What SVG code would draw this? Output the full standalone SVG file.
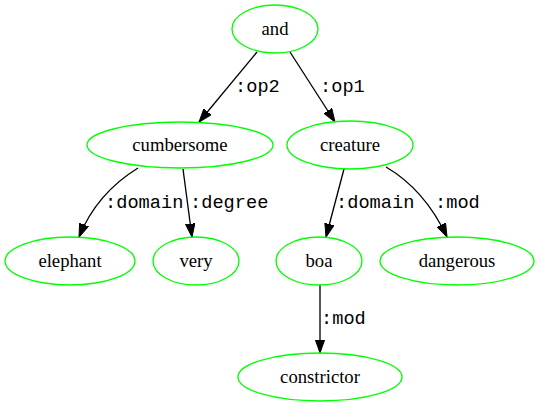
<svg xmlns="http://www.w3.org/2000/svg" width="540" height="407" viewBox="0 0 540 407">
<style>
.node ellipse{fill:none;stroke:#00ff00;stroke-width:1.33}
.node text{font-family:"Liberation Serif","Times New Roman",serif;font-size:18.67px;text-anchor:middle;fill:#000}
.edges path{fill:none;stroke:#000;stroke-width:1.33}
.edges text{font-family:"Liberation Mono","Courier New",monospace;font-size:18.67px;fill:#000}
</style>
<defs>
<marker id="ah" markerUnits="userSpaceOnUse" markerWidth="14" markerHeight="10" viewBox="0 0 14 10" refX="13.3" refY="5" orient="auto">
<path d="M0,0.3 L13.3,5 L0,9.7 z" fill="#000" stroke="#000" stroke-width="1"/>
</marker>
</defs>
<rect width="540" height="407" fill="#fff"/>
<g class="edges">
<path d="M257,52 L199,122" marker-end="url(#ah)"/>
<text x="235" y="92">:op2</text>
<path d="M290,52 L335,122" marker-end="url(#ah)"/>
<text x="320" y="92">:op1</text>
<path d="M138,168 C112,184 92,205 79,237" marker-end="url(#ah)"/>
<text x="105" y="208">:domain</text>
<path d="M183,169 L192,237" marker-end="url(#ah)"/>
<text x="190" y="208">:degree</text>
<path d="M344,169 L326,237" marker-end="url(#ah)"/>
<text x="336" y="208">:domain</text>
<path d="M386,167 C410,181 432,205 447,237" marker-end="url(#ah)"/>
<text x="435" y="208">:mod</text>
<path d="M320,285 L320,353" marker-end="url(#ah)"/>
<text x="321" y="324">:mod</text>
</g>
<g id="n_and" class="node"><ellipse cx="275" cy="29" rx="43" ry="24"/><text x="275" y="35">and</text></g>
<g id="n_cumbersome" class="node"><ellipse cx="180" cy="145" rx="93" ry="23"/><text x="180" y="151">cumbersome</text></g>
<g id="n_creature" class="node"><ellipse cx="350" cy="145" rx="63" ry="24"/><text x="350" y="151">creature</text></g>
<g id="n_elephant" class="node"><ellipse cx="70" cy="261" rx="65" ry="24"/><text x="70" y="267">elephant</text></g>
<g id="n_very" class="node"><ellipse cx="196" cy="261" rx="43" ry="24"/><text x="196" y="267">very</text></g>
<g id="n_boa" class="node"><ellipse cx="319" cy="261" rx="43" ry="24"/><text x="319" y="267">boa</text></g>
<g id="n_dangerous" class="node"><ellipse cx="457" cy="261" rx="77" ry="24"/><text x="457" y="267">dangerous</text></g>
<g id="n_constrictor" class="node"><ellipse cx="320" cy="377" rx="82" ry="24"/><text x="320" y="383">constrictor</text></g>
</svg>
